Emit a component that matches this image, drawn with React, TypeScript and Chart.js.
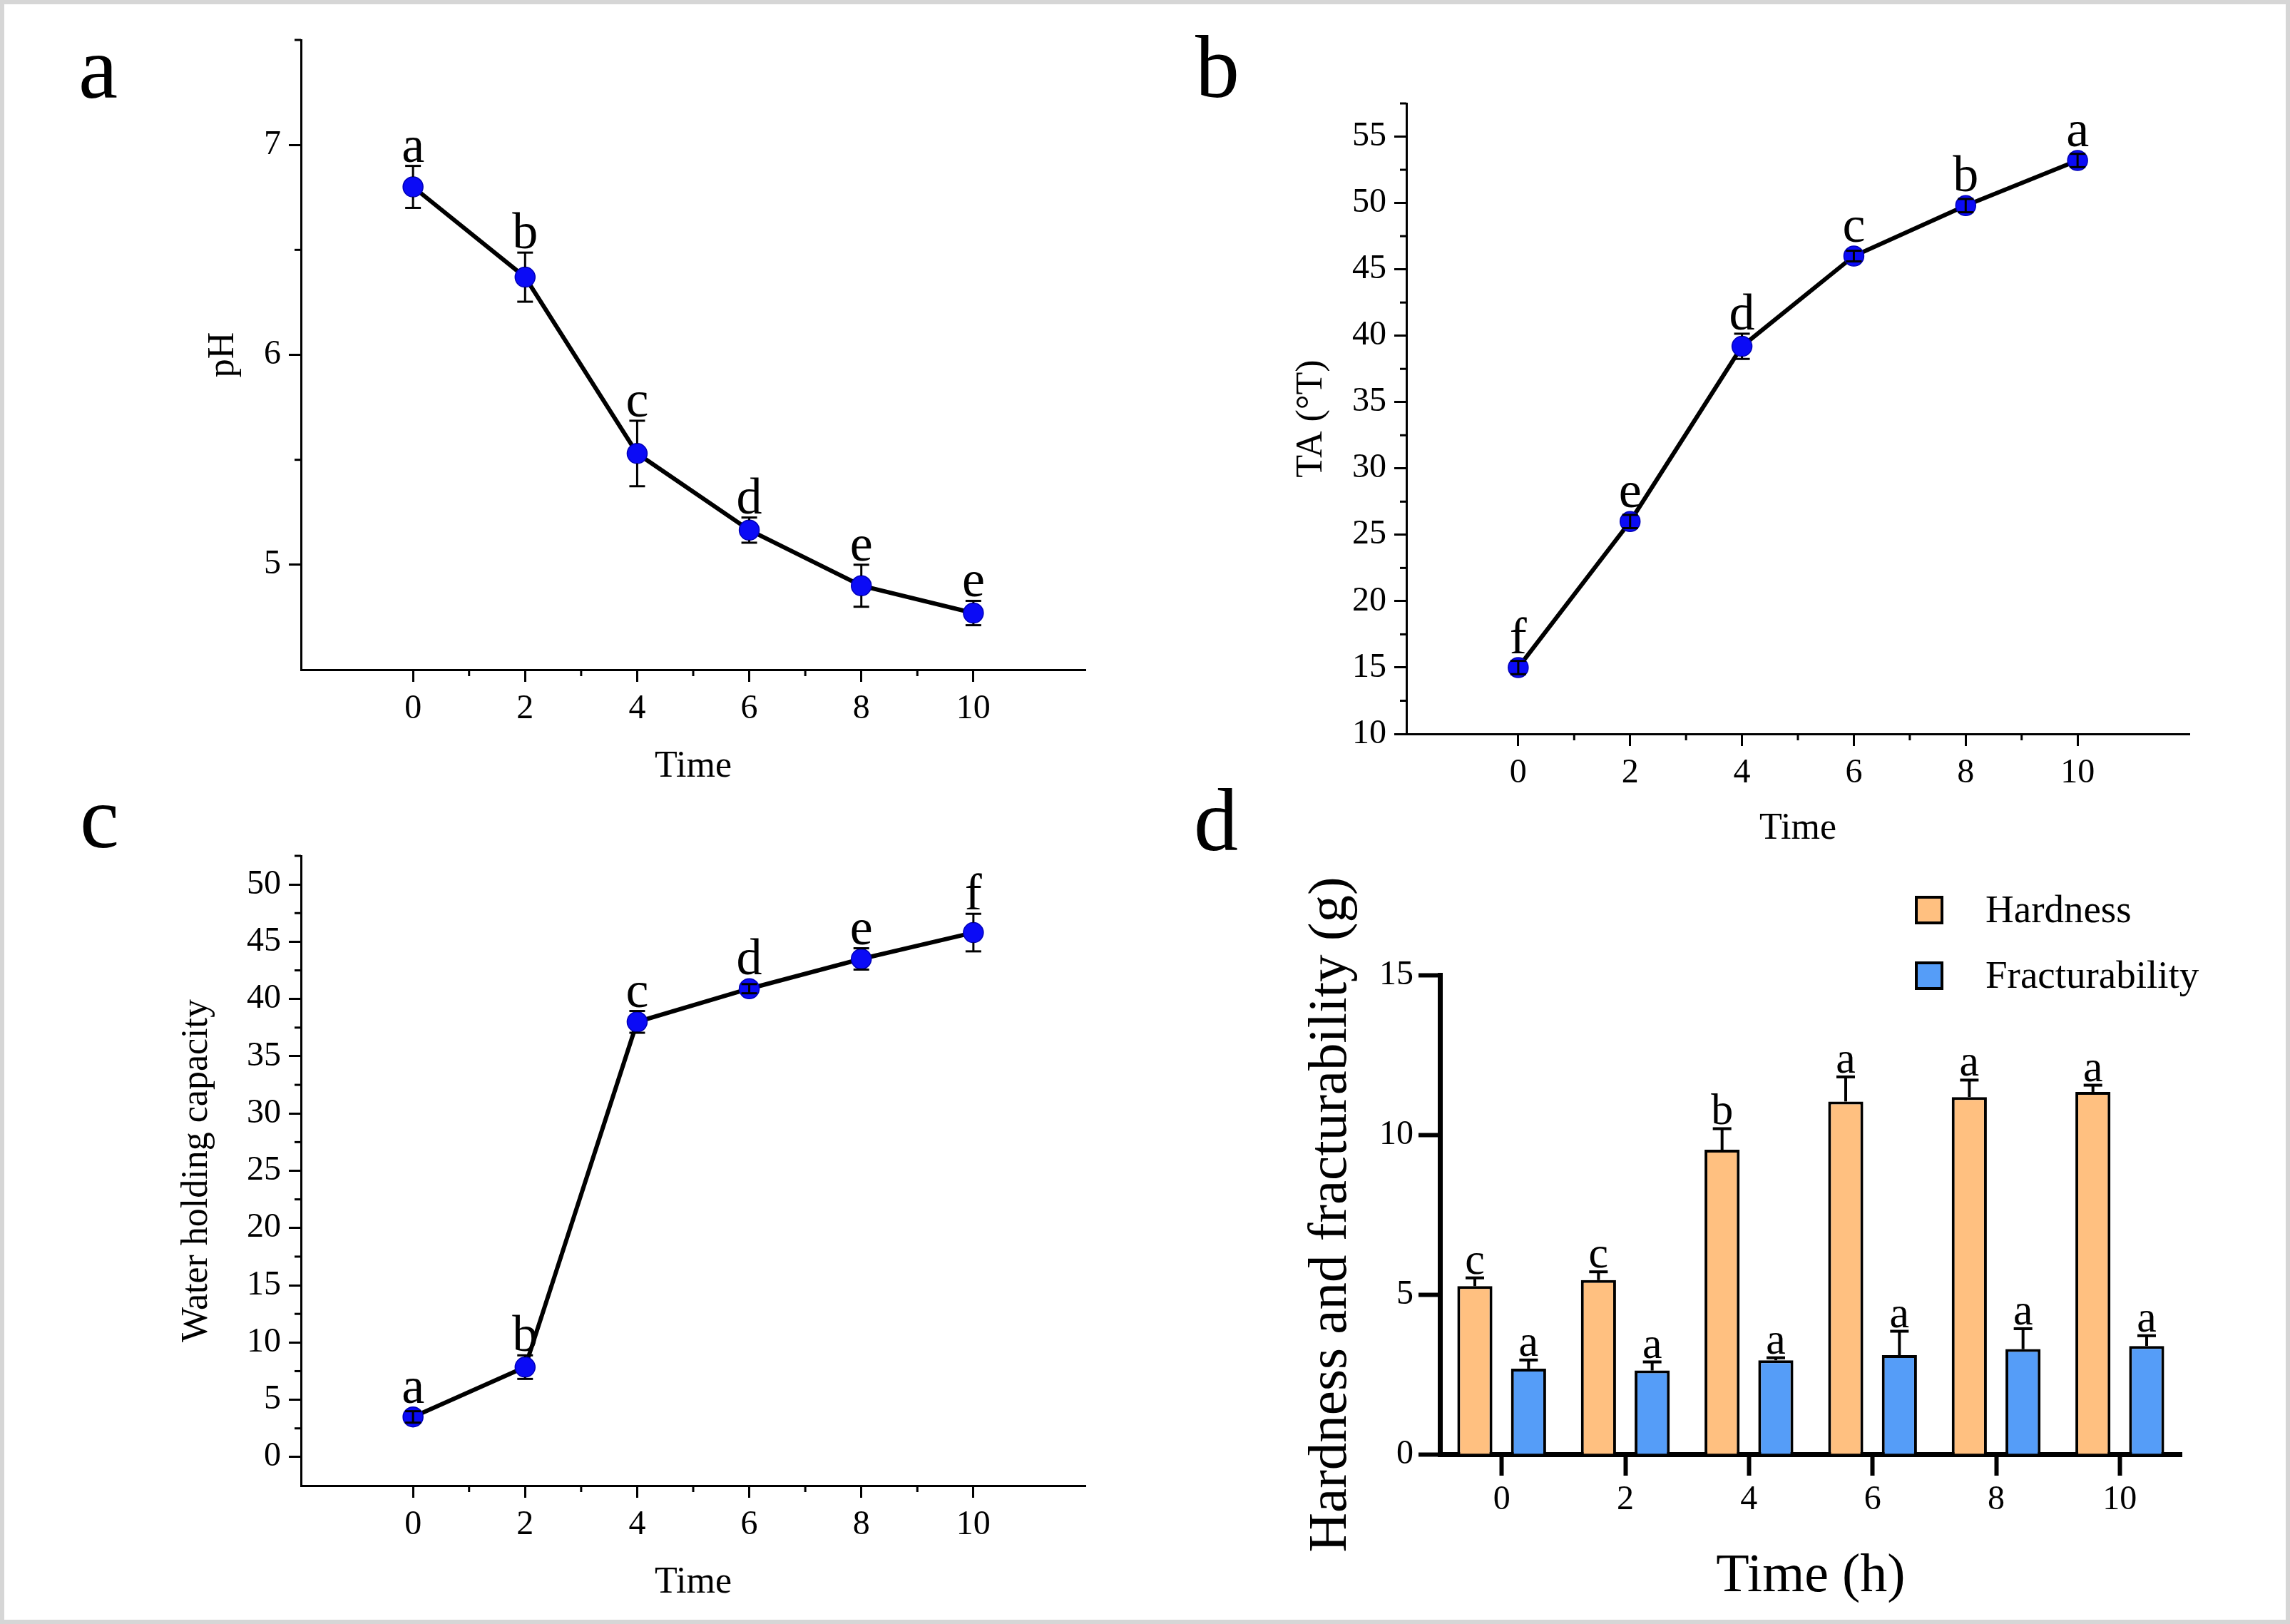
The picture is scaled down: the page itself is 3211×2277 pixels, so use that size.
import React, { useEffect, useRef } from 'react';
import { Chart, registerables } from 'chart.js';

Chart.register(...registerables);

const FONT = "'Liberation Serif', 'Times New Roman', serif";

// ---------- data ----------
const timeHours = [0, 2, 4, 6, 8, 10];
const xTickValues = [0, 2, 4, 6, 8, 10];
const xMinorValues = [1, 3, 5, 7, 9];

const phValues = [6.8, 6.37, 5.53, 5.165, 4.9, 4.77];
const phErrors = [0.1, 0.117, 0.156, 0.06, 0.1, 0.058];
const phLetters = ['a', 'b', 'c', 'd', 'e', 'e'];
const phTicks = [5, 6, 7];
const phMinor = [5.5, 6.5, 7.5];

const taValues = [15.0, 26.0, 39.2, 46.0, 49.8, 53.2];
const taErrors = [0.5, 0.5, 0.95, 0.4, 0.5, 0.5];
const taLetters = ['f', 'e', 'd', 'c', 'b', 'a'];
const taTicks = [10, 15, 20, 25, 30, 35, 40, 45, 50, 55];
const taMinor = [12.5, 17.5, 22.5, 27.5, 32.5, 37.5, 42.5, 47.5, 52.5, 57.5];

const whcValues = [3.5, 7.85, 38.0, 40.9, 43.5, 45.8];
const whcErrors = [0.5, 1.03, 0.95, 0.4, 0.93, 1.64];
const whcLetters = ['a', 'b', 'c', 'd', 'e', 'f'];
const whcTicks = [0, 5, 10, 15, 20, 25, 30, 35, 40, 45, 50];
const whcMinor = [2.5, 7.5, 12.5, 17.5, 22.5, 27.5, 32.5, 37.5, 42.5, 47.5, 52.5];

const barCategories = ['0', '2', '4', '6', '8', '10'];
const hardnessValues = [5.26, 5.45, 9.53, 11.04, 11.18, 11.34];
const hardnessErrors = [0.26, 0.26, 0.66, 0.77, 0.53, 0.21];
const hardnessLetters = ['c', 'c', 'b', 'a', 'a', 'a'];
const fractValues = [2.68, 2.62, 2.94, 3.1, 3.29, 3.39];
const fractErrors = [0.27, 0.27, 0.08, 0.75, 0.64, 0.32];
const fractLetters = ['a', 'a', 'a', 'a', 'a', 'a'];
const barTicks = [0, 5, 10, 15];

// ---------- helpers ----------
function seg(ctx: CanvasRenderingContext2D, x1: number, y1: number, x2: number, y2: number) {
  ctx.beginPath();
  ctx.moveTo(x1, y1);
  ctx.lineTo(x2, y2);
  ctx.stroke();
}

const MARKER_R = 14;

type LineCfg = {
  W: number; H: number;
  L: number; T: number; R: number; B: number;
  yMin: number; yMax: number;
  yTicks: number[]; yMinor: number[];
  values: number[]; errors: number[]; letters: string[];
  yTitle: string; yTitleCenter: number; xTitleCenter: number;
  panel: string; panelX: number; panelY: number;
};

function makeLinePlugin(cfg: LineCfg) {
  return {
    id: 'lineAnnot',
    afterDatasetsDraw(chart: any) {
      const ctx: CanvasRenderingContext2D = chart.ctx;
      const ys = chart.scales.y;
      const meta = chart.getDatasetMeta(0);
      ctx.save();
      ctx.strokeStyle = '#000';
      ctx.lineWidth = 3;
      meta.data.forEach((pt: any, i: number) => {
        const x = pt.x;
        const yc = pt.y;
        const yTop = ys.getPixelForValue(cfg.values[i] + cfg.errors[i]);
        const yBot = ys.getPixelForValue(cfg.values[i] - cfg.errors[i]);
        if (yc - yTop > MARKER_R) {
          seg(ctx, x, yTop, x, yc - MARKER_R);
          seg(ctx, x, yc + MARKER_R, x, yBot);
        } else {
          seg(ctx, x, yTop, x, yBot);
        }
        seg(ctx, x - 11, yTop, x + 11, yTop);
        seg(ctx, x - 11, yBot, x + 11, yBot);
        ctx.fillStyle = '#000';
        ctx.font = `72px ${FONT}`;
        ctx.textAlign = 'center';
        ctx.textBaseline = 'alphabetic';
        ctx.fillText(cfg.letters[i], x, Math.min(yTop, yc - MARKER_R) - 6);
      });
      ctx.restore();
    },
    afterDraw(chart: any) {
      const ctx: CanvasRenderingContext2D = chart.ctx;
      const { left, bottom } = chart.chartArea;
      ctx.save();
      ctx.strokeStyle = '#000';
      ctx.lineWidth = 3;
      xMinorValues.forEach((v) => {
        const px = chart.scales.x.getPixelForValue(v);
        seg(ctx, px, bottom, px, bottom + 9);
      });
      cfg.yMinor.forEach((v) => {
        const py = chart.scales.y.getPixelForValue(v);
        seg(ctx, left, py, left - 9, py);
      });
      ctx.fillStyle = '#000';
      ctx.font = `124px ${FONT}`;
      ctx.textAlign = 'left';
      ctx.textBaseline = 'alphabetic';
      ctx.fillText(cfg.panel, cfg.panelX, cfg.panelY);
      ctx.restore();
    },
  };
}

function buildLineConfig(cfg: LineCfg): any {
  const titleFont = { family: FONT, size: 52 };
  const tickFont = { family: FONT, size: 48 };
  return {
    type: 'line',
    data: {
      datasets: [
        {
          label: cfg.yTitle,
          data: timeHours.map((t, i) => ({ x: t, y: cfg.values[i] })),
          borderColor: '#000',
          borderWidth: 6,
          pointRadius: MARKER_R,
          pointBackgroundColor: '#0b0bf6',
          pointBorderColor: '#0000b8',
          pointBorderWidth: 1.5,
          tension: 0,
          fill: false,
        },
      ],
    },
    options: {
      responsive: false,
      maintainAspectRatio: false,
      animation: false,
      layout: { padding: { left: 0, top: cfg.T, right: cfg.W - cfg.R, bottom: 0 } },
      plugins: { legend: { display: false }, tooltip: { enabled: false } },
      scales: {
        x: {
          type: 'linear',
          min: -2,
          max: 12,
          afterBuildTicks: (s: any) => {
            s.ticks = xTickValues.map((v) => ({ value: v }));
          },
          afterFit: (s: any) => {
            s.height = cfg.H - cfg.B;
          },
          ticks: {
            font: tickFont,
            color: '#000',
            padding: 10,
            autoSkip: false,
            maxRotation: 0,
            callback: (v: any) => String(v),
          },
          grid: {
            display: true,
            drawOnChartArea: false,
            drawTicks: true,
            tickLength: 17,
            tickWidth: 3,
            tickColor: '#000',
          },
          border: { display: true, color: '#000', width: 3 },
          title: {
            display: true,
            text: 'Time',
            color: '#000',
            font: titleFont,
            padding: { top: 0, bottom: cfg.H - cfg.xTitleCenter - 31.2 },
          },
        },
        y: {
          type: 'linear',
          min: cfg.yMin,
          max: cfg.yMax,
          afterBuildTicks: (s: any) => {
            s.ticks = cfg.yTicks.map((v) => ({ value: v }));
          },
          afterFit: (s: any) => {
            s.width = cfg.L;
          },
          ticks: {
            font: tickFont,
            color: '#000',
            padding: 11,
            autoSkip: false,
            callback: (v: any) => String(v),
          },
          grid: {
            display: true,
            drawOnChartArea: false,
            drawTicks: true,
            tickLength: 17,
            tickWidth: 3,
            tickColor: '#000',
          },
          border: { display: true, color: '#000', width: 3 },
          title: {
            display: true,
            text: cfg.yTitle,
            color: '#000',
            font: titleFont,
            padding: { top: cfg.yTitleCenter - 31.2, bottom: 0 },
          },
        },
      },
    },
    plugins: [makeLinePlugin(cfg)],
  };
}

// ---------- bar panel ----------
const BAR_W = 1611;
const BAR_H = 1187;
const BAR_L = 419;
const BAR_T = 277;
const BAR_R = 1459;
const BAR_B = 949;
const BAR_COLORS = ['#FFC080', '#559DF8'];

const barPlugin = {
  id: 'barAnnot',
  afterDatasetsDraw(chart: any) {
    const ctx: CanvasRenderingContext2D = chart.ctx;
    const ys = chart.scales.y;
    const sets = [
      { values: hardnessValues, errors: hardnessErrors, letters: hardnessLetters },
      { values: fractValues, errors: fractErrors, letters: fractLetters },
    ];
    ctx.save();
    ctx.strokeStyle = '#000';
    ctx.lineWidth = 4;
    sets.forEach((set, di) => {
      const meta = chart.getDatasetMeta(di);
      meta.data.forEach((bar: any, i: number) => {
        const x = bar.x;
        const yTop = ys.getPixelForValue(set.values[i] + set.errors[i]);
        seg(ctx, x, bar.y, x, yTop);
        seg(ctx, x - 13, yTop, x + 13, yTop);
        ctx.fillStyle = '#000';
        ctx.font = `62px ${FONT}`;
        ctx.textAlign = 'center';
        ctx.textBaseline = 'alphabetic';
        ctx.fillText(set.letters[i], x, yTop - 6);
      });
    });
    ctx.restore();
  },
  afterDraw(chart: any) {
    const ctx: CanvasRenderingContext2D = chart.ctx;
    ctx.save();
    // legend
    chart.data.datasets.forEach((ds: any, i: number) => {
      const top = 168 + i * 92;
      ctx.fillStyle = ds.backgroundColor;
      ctx.fillRect(1087, top, 36, 36);
      ctx.strokeStyle = '#000';
      ctx.lineWidth = 4;
      ctx.strokeRect(1087, top, 36, 36);
      ctx.fillStyle = '#000';
      ctx.font = `55px ${FONT}`;
      ctx.textAlign = 'left';
      ctx.textBaseline = 'alphabetic';
      ctx.fillText(ds.label, 1184, top + 35);
    });
    // panel label
    ctx.font = `124px ${FONT}`;
    ctx.fillText('d', 74, 102);
    ctx.restore();
  },
};

function buildBarConfig(): any {
  const tickFont = { family: FONT, size: 48 };
  return {
    type: 'bar',
    data: {
      labels: barCategories,
      datasets: [
        {
          label: 'Hardness',
          data: hardnessValues,
          backgroundColor: BAR_COLORS[0],
          borderColor: '#000',
          borderWidth: 4,
          categoryPercentage: 0.869,
          barPercentage: 0.653,
        },
        {
          label: 'Fracturability',
          data: fractValues,
          backgroundColor: BAR_COLORS[1],
          borderColor: '#000',
          borderWidth: 4,
          categoryPercentage: 0.869,
          barPercentage: 0.653,
        },
      ],
    },
    options: {
      responsive: false,
      maintainAspectRatio: false,
      animation: false,
      layout: { padding: { left: 0, top: BAR_T, right: BAR_W - BAR_R, bottom: 0 } },
      plugins: { legend: { display: false }, tooltip: { enabled: false } },
      scales: {
        x: {
          type: 'category',
          offset: true,
          afterFit: (s: any) => {
            s.height = BAR_H - BAR_B;
          },
          ticks: { font: tickFont, color: '#000', padding: 6, autoSkip: false, maxRotation: 0 },
          grid: {
            display: true,
            offset: false,
            drawOnChartArea: false,
            drawTicks: true,
            tickLength: 30,
            tickWidth: 6,
            tickColor: '#000',
          },
          border: { display: true, color: '#000', width: 7 },
          title: {
            display: true,
            text: 'Time (h)',
            color: '#000',
            font: { family: FONT, size: 76 },
            padding: { top: 0, bottom: BAR_H - 1121 - 45.6 },
          },
        },
        y: {
          type: 'linear',
          min: 0,
          max: 15,
          afterBuildTicks: (s: any) => {
            s.ticks = barTicks.map((v) => ({ value: v }));
          },
          afterFit: (s: any) => {
            s.width = BAR_L;
          },
          ticks: {
            font: tickFont,
            color: '#000',
            padding: 7,
            autoSkip: false,
            callback: (v: any) => String(v),
          },
          grid: {
            display: true,
            drawOnChartArea: false,
            drawTicks: true,
            tickLength: 30,
            tickWidth: 6,
            tickColor: '#000',
          },
          border: { display: true, color: '#000', width: 7 },
          title: {
            display: true,
            text: 'Hardness and fracturability (g)',
            color: '#000',
            font: { family: FONT, size: 77 },
            padding: { top: 267 - 46.2, bottom: 0 },
          },
        },
      },
    },
    plugins: [barPlugin],
  };
}

// ---------- panels ----------
const panelA: LineCfg = {
  W: 1600, H: 1150, L: 422, T: 56, R: 1522, B: 939,
  yMin: 4.5, yMax: 7.5, yTicks: phTicks, yMinor: phMinor,
  values: phValues, errors: phErrors, letters: phLetters,
  yTitle: 'pH', yTitleCenter: 313, xTitleCenter: 1075.5,
  panel: 'a', panelX: 110, panelY: 137,
};

const panelB: LineCfg = {
  W: 1611, H: 1230, L: 372, T: 145, R: 1470, B: 1029,
  yMin: 10, yMax: 57.5, yTicks: taTicks, yMinor: taMinor,
  values: taValues, errors: taErrors, letters: taLetters,
  yTitle: 'TA (°T)', yTitleCenter: 239.5, xTitleCenter: 1162.5,
  panel: 'b', panelX: 76, panelY: 136,
};

const panelC: LineCfg = {
  W: 1600, H: 1177, L: 422, T: 100, R: 1522, B: 983,
  yMin: -2.5, yMax: 52.5, yTicks: whcTicks, yMinor: whcMinor,
  values: whcValues, errors: whcErrors, letters: whcLetters,
  yTitle: 'Water holding capacity', yTitleCenter: 276.5, xTitleCenter: 1119.5,
  panel: 'c', panelX: 112, panelY: 88,
};

function ChartCanvas(props: { left: number; top: number; width: number; height: number; build: () => any }) {
  const ref = useRef<HTMLCanvasElement | null>(null);
  useEffect(() => {
    if (!ref.current) return;
    const chart = new Chart(ref.current, props.build());
    return () => chart.destroy();
  }, []);
  return (
    <canvas
      ref={ref}
      width={props.width}
      height={props.height}
      style={{
        position: 'absolute',
        left: props.left,
        top: props.top,
        width: props.width,
        height: props.height,
        display: 'block',
      }}
    />
  );
}

export default function App() {
  return (
    <div
      style={{
        position: 'absolute',
        left: 0,
        top: 0,
        width: 3211,
        height: 2277,
        background: '#fff',
        overflow: 'hidden',
      }}
    >
      <div
        style={{
          position: 'absolute',
          left: 0,
          top: 0,
          width: 3211,
          height: 2277,
          boxSizing: 'border-box',
          border: '6px solid #d6d6d6',
        }}
      />
      <ChartCanvas left={0} top={0} width={1600} height={1150} build={() => buildLineConfig(panelA)} />
      <ChartCanvas left={1600} top={0} width={1611} height={1230} build={() => buildLineConfig(panelB)} />
      <ChartCanvas left={0} top={1100} width={1600} height={1177} build={() => buildLineConfig(panelC)} />
      <ChartCanvas left={1600} top={1090} width={BAR_W} height={BAR_H} build={buildBarConfig} />
    </div>
  );
}
